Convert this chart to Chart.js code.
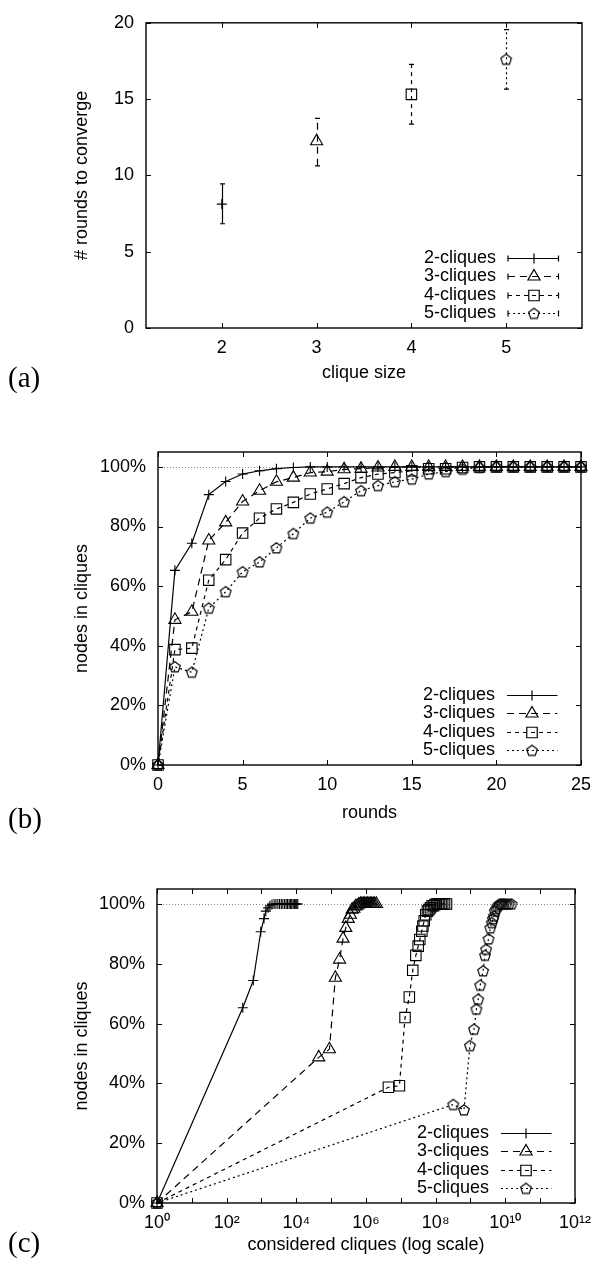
<!DOCTYPE html>
<html>
<head>
<meta charset="utf-8">
<script src="https://cdn.jsdelivr.net/npm/chart.js@4.4.1/dist/chart.umd.min.js"></script>
<style>
html, body { margin: 0; padding: 0; background: #fff; }
body { width: 600px; height: 1268px; position: relative; overflow: hidden; }
.panel { position: absolute; left: 0; width: 600px; }
.tag { position: absolute; left: 8px; font: 29px/29px "Liberation Serif", "Times New Roman", serif; color: #000; }
</style>
</head>
<body>
<div class="panel" style="top:0;height:400px"><canvas id="chartA"></canvas></div>
<div class="panel" style="top:420px;height:410px"><canvas id="chartB"></canvas></div>
<div class="panel" style="top:850px;height:418px"><canvas id="chartC"></canvas></div>
<div class="tag" style="top:363px">(a)</div>
<div class="tag" style="top:804px">(b)</div>
<div class="tag" style="top:1228px">(c)</div>
<script>
const seriesLabels = ['2-cliques', '3-cliques', '4-cliques', '5-cliques'];

// (a) rounds needed to converge, mean and spread
const cliqueSizes = [2, 3, 4, 5];
const roundsMean = [8.12, 12.24, 15.31, 17.6];
const roundsLow = [6.83, 10.63, 13.36, 15.65];
const roundsHigh = [9.44, 13.74, 17.28, 19.55];
const ticksAx = [2, 3, 4, 5];
const ticksAy = [0, 5, 10, 15, 20];

// (b) share of nodes in cliques after each round (%)
const rounds = [0, 1, 2, 3, 4, 5, 6, 7, 8, 9, 10, 11, 12, 13, 14, 15, 16, 17, 18, 19, 20, 21, 22, 23, 24, 25];
const cover2 = [0, 65.3, 74.4, 90.7, 95.1, 97.6, 98.7, 99.4, 99.8, 100, 100, 100, 100, 100, 100, 100, 100, 100, 100, 100, 100, 100, 100, 100, 100, 100];
const cover3 = [0, 48.7, 51.4, 75.3, 81.4, 88.4, 92.0, 95.0, 96.4, 98.1, 98.4, 99.2, 99.4, 99.8, 100, 100, 100, 100, 100, 100, 100, 100, 100, 100, 100, 100];
const cover4 = [0, 38.7, 39.2, 62.0, 68.9, 77.8, 82.8, 85.9, 88.1, 90.9, 92.6, 94.4, 96.4, 97.6, 98.1, 98.7, 99.4, 99.4, 99.8, 100, 100, 100, 100, 100, 100, 100];
const cover5 = [0, 32.9, 31.1, 52.6, 58.1, 64.8, 68.1, 72.8, 77.6, 82.8, 84.8, 88.3, 92.0, 93.7, 95.0, 95.9, 97.6, 98.4, 99.2, 99.8, 100, 100, 100, 100, 100, 100];
const ticksBx = [0, 5, 10, 15, 20, 25];
const pctTicks = [0, 20, 40, 60, 80, 100];
const fullCover = 100;

// (c) cumulative considered cliques after each round
const considered2 = [1, 290, 580, 950, 1180, 1330, 1550, 1750, 2000, 2300, 2600, 2950, 3300, 3700, 4100, 4600, 5100, 5600, 6200, 6800, 7400, 8100, 8800, 9600, 10300, 11000];
const considered3 = [1, 44000, 89000, 132000, 174000, 219000, 263000, 309000, 355000, 400000, 450000, 500000, 560000, 620000, 690000, 760000, 840000, 920000, 1010000, 1110000, 1220000, 1340000, 1470000, 1610000, 1780000, 2000000];
const considered4 = [1, 4.4e6, 9.1e6, 1.32e7, 1.75e7, 2.2e7, 2.7e7, 3.15e7, 3.5e7, 4.0e7, 4.3e7, 4.7e7, 5.2e7, 5.8e7, 6.4e7, 7.1e7, 7.9e7, 8.7e7, 9.6e7, 1.06e8, 1.17e8, 1.29e8, 1.43e8, 1.59e8, 1.8e8, 2.05e8];
const considered5 = [1, 3.2e8, 6.5e8, 9.6e8, 1.26e9, 1.48e9, 1.66e9, 1.9e9, 2.3e9, 2.6e9, 2.8e9, 3.3e9, 3.7e9, 4.1e9, 4.4e9, 4.7e9, 5.0e9, 5.5e9, 6.0e9, 6.6e9, 7.3e9, 8.2e9, 9.3e9, 1.07e10, 1.25e10, 1.5e10];
const ticksCx = [1e0, 1e1, 1e2, 1e3, 1e4, 1e5, 1e6, 1e7, 1e8, 1e9, 1e10, 1e11, 1e12];
const ticksCLabels = ['10⁰', '', '10²', '', '10⁴', '', '10⁶', '', '10⁸', '', '10¹⁰', '', '10¹²'];

Chart.defaults.font.family = '"Liberation Sans", Arial, Helvetica, sans-serif';
Chart.defaults.font.size = 18;
Chart.defaults.color = '#000';
Chart.defaults.animation = false;

// gnuplot pentagon point type
function pentagonMark() {
  const c = document.createElement('canvas');
  c.width = 14; c.height = 14;
  const g = c.getContext('2d');
  g.strokeStyle = '#000';
  g.lineWidth = 1.15;
  g.beginPath();
  for (let k = 0; k < 5; k++) {
    const ang = -Math.PI / 2 + k * 2 * Math.PI / 5;
    const px = 7 + 5.6 * Math.cos(ang), py = 7.4 + 5.6 * Math.sin(ang);
    if (k) g.lineTo(px, py); else g.moveTo(px, py);
  }
  g.closePath();
  g.stroke();
  return c;
}

const dashes = [[], [7, 5], [4, 4], [2, 3]];
const marks = ['cross', 'triangle', 'rect', pentagonMark()];
const markSize = [5, 7, 7.4, 7];

function styled(i, data, extra) {
  return Object.assign({
    label: seriesLabels[i],
    data: data,
    borderColor: '#000',
    borderWidth: 1.2,
    borderDash: dashes[i],
    pointStyle: marks[i],
    pointRadius: markSize[i],
    pointBorderWidth: 1.1,
    pointBorderColor: '#000',
    pointBackgroundColor: 'rgba(0,0,0,0)',
    tension: 0,
    clip: false
  }, extra || {});
}

const gnuplotLook = {
  id: 'gnuplotLook',
  beforeDatasetsDraw(chart, args, opts) {
    const {ctx, chartArea: a} = chart;
    const xs = chart.scales.x, ys = chart.scales.y;
    ctx.save();
    if (opts.refLine !== undefined) {
      const py = Math.round(ys.getPixelForValue(opts.refLine)) + 0.5;
      ctx.strokeStyle = '#8a8a8a';
      ctx.lineWidth = 1;
      ctx.setLineDash([1, 2]);
      ctx.beginPath();
      ctx.moveTo(a.left, py);
      ctx.lineTo(a.right, py);
      ctx.stroke();
      ctx.setLineDash([]);
    }
    ctx.strokeStyle = '#000';
    ctx.lineWidth = 1;
    ctx.beginPath();
    xs.ticks.forEach(t => {
      const px = Math.round(xs.getPixelForValue(t.value)) + 0.5;
      ctx.moveTo(px, a.bottom); ctx.lineTo(px, a.bottom - 5);
      ctx.moveTo(px, a.top); ctx.lineTo(px, a.top + 5);
    });
    ys.ticks.forEach(t => {
      const py = Math.round(ys.getPixelForValue(t.value)) + 0.5;
      ctx.moveTo(a.left, py); ctx.lineTo(a.left + 5, py);
      ctx.moveTo(a.right, py); ctx.lineTo(a.right - 5, py);
    });
    ctx.stroke();
    ctx.lineWidth = 1.4;
    ctx.strokeRect(a.left, a.top, a.right - a.left, a.bottom - a.top);

    if (opts.errors) {
      const e = opts.errors;
      ctx.lineWidth = 1.2;
      for (let i = 0; i < e.x.length; i++) {
        const px = Math.round(xs.getPixelForValue(e.x[i])) + 0.5;
        const lo = ys.getPixelForValue(e.low[i]);
        const hi = ys.getPixelForValue(e.high[i]);
        ctx.setLineDash(dashes[i]);
        ctx.beginPath();
        ctx.moveTo(px, lo); ctx.lineTo(px, hi);
        ctx.stroke();
        ctx.setLineDash([]);
        ctx.beginPath();
        ctx.moveTo(px - 2.5, lo); ctx.lineTo(px + 2.5, lo);
        ctx.moveTo(px - 2.5, hi); ctx.lineTo(px + 2.5, hi);
        ctx.stroke();
      }
    }
    ctx.restore();
  },
  afterDatasetsDraw(chart, args, opts) {
    const {ctx, chartArea: a} = chart;
    const sets = chart.data.datasets;
    const n = sets.length;
    ctx.save();
    ctx.font = '18px "Liberation Sans", Arial, sans-serif';
    ctx.fillStyle = '#000';
    ctx.strokeStyle = '#000';
    ctx.textAlign = 'right';
    ctx.textBaseline = 'middle';
    sets.forEach((ds, i) => {
      const y = Math.round(a.bottom - 14.7 - (n - 1 - i) * 18.5) + 0.5;
      ctx.fillText(ds.label, a.right - 86, y);
      const x0 = a.right - 74, x1 = a.right - 23.5;
      ctx.lineWidth = 1.2;
      ctx.setLineDash(ds.borderDash || []);
      ctx.beginPath();
      ctx.moveTo(x0, y); ctx.lineTo(x1, y);
      ctx.stroke();
      ctx.setLineDash([]);
      if (opts.legendCaps) {
        ctx.beginPath();
        ctx.moveTo(x0, y - 3); ctx.lineTo(x0, y + 3);
        ctx.moveTo(x1, y - 3); ctx.lineTo(x1, y + 3);
        ctx.stroke();
      }
      ctx.fillStyle = 'rgba(0,0,0,0)';
      Chart.helpers.drawPoint(ctx, {
        pointStyle: ds.pointStyle, rotation: 0, radius: ds.pointRadius, borderWidth: 1.1
      }, Math.round(a.right - 48.5), y);
      ctx.fillStyle = '#000';
    });
    ctx.restore();
  }
};

function xAxis(type, min, max, tickValues, title, height, titlePad, labelFn) {
  return {
    type: type, min: min, max: max,
    grid: {display: false, drawTicks: false},
    border: {display: false},
    afterBuildTicks: s => { s.ticks = tickValues.map(v => ({value: v})); },
    ticks: {padding: 9, autoSkip: false, maxRotation: 0, callback: labelFn},
    title: {display: true, text: title, padding: {top: 0, bottom: titlePad}},
    afterFit: s => { s.height = height; }
  };
}

function yAxis(min, max, tickValues, title, width, labelFn) {
  return {
    type: 'linear', min: min, max: max,
    grid: {display: false, drawTicks: false},
    border: {display: false},
    afterBuildTicks: s => { s.ticks = tickValues.map(v => ({value: v})); },
    ticks: {padding: 12, autoSkip: false, callback: labelFn},
    title: {display: true, text: title, padding: {top: 71, bottom: 0}},
    afterFit: s => { s.width = width; }
  };
}

const pct = v => v + '%';
const plain = v => String(v);

new Chart(document.getElementById('chartA'), {
  type: 'scatter',
  data: {
    datasets: cliqueSizes.map((c, i) => styled(i, [{x: c, y: roundsMean[i]}], {showLine: false}))
  },
  options: {
    responsive: true, maintainAspectRatio: false, events: [],
    layout: {padding: {top: 14, right: 18, left: 0, bottom: 0}},
    plugins: {
      legend: {display: false}, tooltip: {enabled: false},
      gnuplotLook: {legendCaps: true, errors: {x: cliqueSizes, low: roundsLow, high: roundsHigh}}
    },
    scales: {
      x: xAxis('linear', 1.2, 5.8, ticksAx, 'clique size', 72, 15.9, plain),
      y: yAxis(0, 20, ticksAy, '# rounds to converge', 146, plain)
    }
  },
  plugins: [gnuplotLook]
});

const coverSets = [cover2, cover3, cover4, cover5];

new Chart(document.getElementById('chartB'), {
  type: 'line',
  data: {
    datasets: coverSets.map((ys, i) => styled(i, rounds.map((r, k) => ({x: r, y: ys[k]}))))
  },
  options: {
    responsive: true, maintainAspectRatio: false, events: [],
    layout: {padding: {top: 32, right: 18, left: 0, bottom: 0}},
    plugins: {
      legend: {display: false}, tooltip: {enabled: false},
      gnuplotLook: {refLine: fullCover, legendCaps: false}
    },
    scales: {
      x: xAxis('linear', 0, 25, ticksBx, 'rounds', 65, 6.2, plain),
      y: yAxis(0, 105, pctTicks, 'nodes in cliques', 158, pct)
    }
  },
  plugins: [gnuplotLook]
});

const consideredSets = [considered2, considered3, considered4, considered5];

new Chart(document.getElementById('chartC'), {
  type: 'line',
  data: {
    datasets: consideredSets.map((xs, i) => styled(i, xs.map((v, k) => ({x: v, y: coverSets[i][k]}))))
  },
  options: {
    responsive: true, maintainAspectRatio: false, events: [],
    layout: {padding: {top: 39, right: 18, left: 0, bottom: 0}},
    plugins: {
      legend: {display: false}, tooltip: {enabled: false},
      gnuplotLook: {refLine: fullCover, legendCaps: false}
    },
    scales: {
      x: xAxis('logarithmic', 1, 1e12, ticksCx, 'considered cliques (log scale)', 65, 12.2, (v, i) => ticksCLabels[i]),
      y: yAxis(0, 105, pctTicks, 'nodes in cliques', 157, pct)
    }
  },
  plugins: [gnuplotLook]
});
</script>
</body>
</html>
